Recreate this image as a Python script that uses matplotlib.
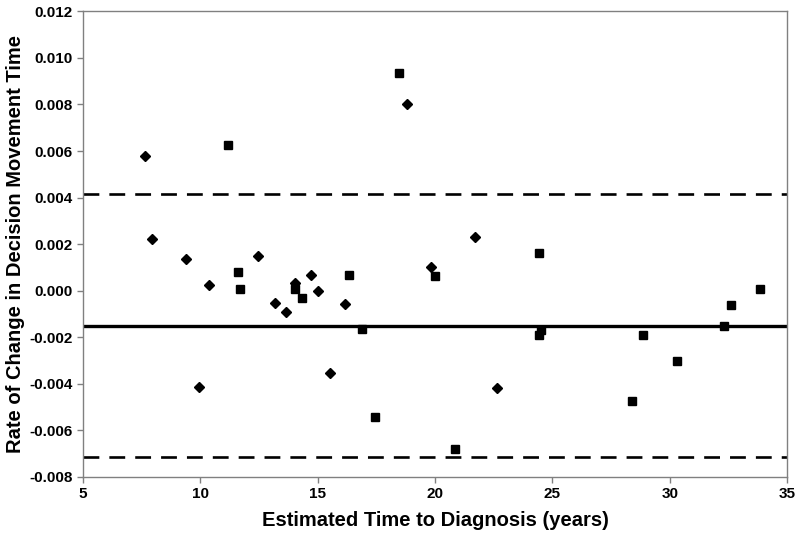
import matplotlib
matplotlib.use("Agg")
import matplotlib.pyplot as plt
from matplotlib.ticker import FormatStrFormatter

# diamonds
diamond_x = [7.65, 7.94, 9.4, 9.95, 10.39, 12.45, 13.18, 13.64, 14.03, 14.7,
             15.04, 15.52, 16.16, 18.8, 19.85, 21.7, 22.63]
diamond_y = [0.0058, 0.00221, 0.00135, -0.00414, 0.00024, 0.00149, -0.00052,
             -0.00093, 0.00032, 0.00069, 0.0, -0.00352, -0.00056, 0.0080,
             0.00101, 0.00232, -0.00418]

# squares
square_x = [11.18, 11.62, 11.68, 14.03, 14.35, 16.35, 16.9, 17.44, 18.46, 19.99,
            20.86, 24.43, 24.43, 24.53, 28.37, 28.87, 30.32, 32.29, 32.59, 33.85]
square_y = [0.00627, 0.00082, 0.00009, 0.00009, -0.00031, 0.00069, -0.00165,
            -0.00541, 0.00937, 0.00064, -0.0068, 0.0016, -0.00192, -0.00169,
            -0.00474, -0.00192, -0.0030, -0.00152, -0.00061, 0.00007]

mean_diff = -0.0015
upper_limit = 0.00415
lower_limit = -0.00713

plt.rcParams['font.family'] = ['Liberation Sans', 'DejaVu Sans']

fig = plt.figure(figsize=(8, 5.42), dpi=100)
ax = fig.add_axes([0.1034, 0.12, 0.8806, 0.859])

ax.axhline(upper_limit, color='black', lw=1.9, dashes=(6.0, 3.8))
ax.axhline(lower_limit, color='black', lw=1.9, dashes=(6.0, 3.8))
ax.axhline(mean_diff, color='black', lw=2.4)

ax.plot(diamond_x, diamond_y, 'D', color='black', ms=5.3, ls='none')
ax.plot(square_x, square_y, 's', color='black', ms=6.4, ls='none')

ax.set_xlim(5, 35)
ax.set_ylim(-0.008, 0.012)
ax.set_xticks(range(5, 36, 5))
ax.set_yticks([-0.008 + 0.002 * i for i in range(11)])
ax.yaxis.set_major_formatter(FormatStrFormatter('%.3f'))

for s in ax.spines.values():
    s.set_color('#808080')
    s.set_linewidth(1.0)
ax.tick_params(colors='#808080', length=4, width=1, labelcolor='black',
               labelsize=11)
for lab in ax.get_xticklabels() + ax.get_yticklabels():
    lab.set_fontweight('bold')

ax.set_xlabel('Estimated Time to Diagnosis (years)', fontsize=14.5,
              fontweight='bold', labelpad=7)
ax.set_ylabel('Rate of Change in Decision Movement Time', fontsize=14.5,
              fontweight='bold', labelpad=3)

fig.savefig('out.png', dpi=100)
